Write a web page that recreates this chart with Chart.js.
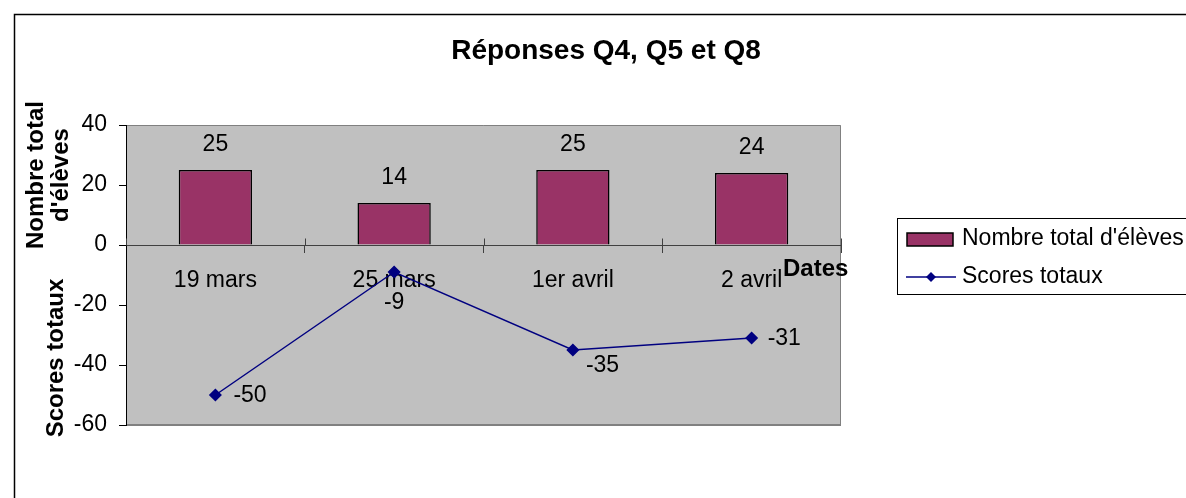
<!DOCTYPE html>
<html>
<head>
<meta charset="utf-8">
<script src="https://cdn.jsdelivr.net/npm/chart.js@4/dist/chart.umd.min.js"></script>
<style>
  html, body { margin: 0; padding: 0; background: #fff; }
  canvas { display: block; }
</style>
</head>
<body>
<canvas id="chart" width="1186" height="498"></canvas>
<script>
// Chart data
const chartTitle = 'Réponses Q4, Q5 et Q8';
const dates = ['19 mars', '25 mars', '1er avril', '2 avril'];
const studentCounts = [25, 14, 25, 24];
const totalScores = [-50, -9, -35, -31];
const yTicks = [40, 20, 0, -20, -40, -60];
const barLabel = "Nombre total d'élèves";
const lineLabel = 'Scores totaux';
const xTitle = 'Dates';
const yTitleTop = ['Nombre total', "d'élèves"];
const yTitleBottom = 'Scores totaux';

// Where each score label sits relative to its point: dx, dy, align
const scoreLabelPlacement = [
    [18, 0, 'left'],
    [0, 30, 'center'],
    [13, 15, 'left'],
    [16, 0, 'left']
];

const FONT = '"Liberation Sans", Arial, sans-serif';
const BAR_COLOR = '#993366';
const LINE_COLOR = '#000080';

// Background, outer frame and grey plot area
const backgroundPlugin = {
    id: 'background',
    beforeDraw(chart) {
        const ctx = chart.ctx;
        const a = chart.chartArea;
        ctx.save();
        ctx.fillStyle = '#fff';
        ctx.fillRect(0, 0, chart.width, chart.height);

        // outer chart frame (runs off the right and bottom edges)
        ctx.strokeStyle = '#000';
        ctx.lineWidth = 1.5;
        ctx.beginPath();
        ctx.moveTo(14.5, chart.height + 5);
        ctx.lineTo(14.5, 14.5);
        ctx.lineTo(chart.width + 5, 14.5);
        ctx.stroke();

        // plot area
        ctx.fillStyle = '#c0c0c0';
        ctx.fillRect(a.left, a.top, a.right - a.left, a.bottom - a.top);
        ctx.strokeStyle = '#808080';
        ctx.lineWidth = 1;
        ctx.beginPath();
        ctx.moveTo(a.left, a.top + 0.5);
        ctx.lineTo(a.right - 0.5, a.top + 0.5);
        ctx.lineTo(a.right - 0.5, a.bottom);
        ctx.stroke();
        ctx.lineWidth = 2;
        ctx.beginPath();
        ctx.moveTo(a.left, a.bottom);
        ctx.lineTo(a.right, a.bottom);
        ctx.stroke();
        ctx.restore();
    }
};

// Titles, data labels, legend, upper halves of the x tick marks
const decorPlugin = {
    id: 'decor',
    afterDraw(chart) {
        const ctx = chart.ctx;
        const x = chart.scales.x;
        const y = chart.scales.y;
        ctx.save();
        ctx.fillStyle = '#000';

        // x tick marks cross the axis
        const zeroY = Math.round(y.getPixelForValue(0)) + 0.5;
        const half = (x.getPixelForValue(1) - x.getPixelForValue(0)) / 2;
        ctx.strokeStyle = '#404040';
        ctx.lineWidth = 1;
        ctx.beginPath();
        for (let i = 0; i <= dates.length; i++) {
            const px = Math.round(x.getPixelForValue(i) - half) + 0.5;
            ctx.moveTo(px, zeroY);
            ctx.lineTo(px, zeroY - 7);
        }
        ctx.stroke();

        // chart title
        ctx.font = 'bold 28px ' + FONT;
        ctx.textAlign = 'center';
        ctx.textBaseline = 'middle';
        ctx.fillText(chartTitle, 606, 51);

        // x axis title
        ctx.font = 'bold 24px ' + FONT;
        ctx.textAlign = 'left';
        ctx.fillText(xTitle, 783, 269);

        // y axis titles (rotated)
        ctx.save();
        ctx.translate(36, 175);
        ctx.rotate(-Math.PI / 2);
        ctx.textAlign = 'center';
        ctx.fillText(yTitleTop[0], 0, 0);
        ctx.fillText(yTitleTop[1], 0, 25);
        ctx.restore();
        ctx.save();
        ctx.translate(56, 358);
        ctx.rotate(-Math.PI / 2);
        ctx.textAlign = 'center';
        ctx.fillText(yTitleBottom, 0, 0);
        ctx.restore();

        // data labels
        ctx.font = '23px ' + FONT;
        const bars = chart.getDatasetMeta(0).data;
        ctx.textAlign = 'center';
        bars.forEach((bar, i) => {
            ctx.fillText(String(studentCounts[i]), bar.x, bar.y - 25);
        });
        const points = chart.getDatasetMeta(1).data;
        points.forEach((pt, i) => {
            const [dx, dy, align] = scoreLabelPlacement[i];
            ctx.textAlign = align;
            ctx.fillText(String(totalScores[i]), pt.x + dx, pt.y + dy + 1);
        });

        // legend
        ctx.strokeStyle = '#000';
        ctx.lineWidth = 1;
        ctx.strokeRect(897.5, 218.5, 310, 76);
        ctx.fillStyle = BAR_COLOR;
        ctx.fillRect(907, 233, 46, 13);
        ctx.lineWidth = 1.5;
        ctx.strokeRect(907, 233, 46, 13);
        ctx.strokeStyle = LINE_COLOR;
        ctx.beginPath();
        ctx.moveTo(906, 277);
        ctx.lineTo(956, 277);
        ctx.stroke();
        ctx.fillStyle = LINE_COLOR;
        ctx.beginPath();
        ctx.moveTo(931, 272);
        ctx.lineTo(936, 277);
        ctx.lineTo(931, 282);
        ctx.lineTo(926, 277);
        ctx.closePath();
        ctx.fill();
        ctx.fillStyle = '#000';
        ctx.textAlign = 'left';
        ctx.fillText(barLabel, 962, 239);
        ctx.fillText(lineLabel, 962, 277);

        ctx.restore();
    }
};

new Chart(document.getElementById('chart'), {
    type: 'bar',
    data: {
        labels: dates,
        datasets: [
            {
                type: 'bar',
                label: barLabel,
                data: studentCounts,
                backgroundColor: BAR_COLOR,
                borderColor: '#000',
                borderWidth: 1.5,
                barPercentage: 1,
                categoryPercentage: 0.41,
                order: 2
            },
            {
                type: 'line',
                label: lineLabel,
                data: totalScores,
                borderColor: LINE_COLOR,
                borderWidth: 1.5,
                backgroundColor: LINE_COLOR,
                pointStyle: 'rectRot',
                pointRadius: 5.5,
                pointBackgroundColor: LINE_COLOR,
                pointBorderColor: LINE_COLOR,
                tension: 0,
                order: 1
            }
        ]
    },
    options: {
        responsive: false,
        animation: false,
        devicePixelRatio: 1,
        layout: {
            padding: { top: 125, right: 345, bottom: 73, left: 0 }
        },
        plugins: {
            legend: { display: false },
            tooltip: { enabled: false },
            title: { display: false }
        },
        scales: {
            x: {
                position: { y: 0 },
                offset: true,
                grid: {
                    offset: true,
                    drawOnChartArea: false,
                    tickLength: 7,
                    tickColor: '#404040'
                },
                border: { color: '#404040', width: 1 },
                ticks: {
                    color: '#000',
                    font: { family: FONT, size: 23 },
                    padding: 15,
                    maxRotation: 0,
                    autoSkip: false
                }
            },
            y: {
                min: Math.min(...yTicks),
                max: Math.max(...yTicks),
                afterFit(scale) { scale.width = 126; },
                grid: {
                    drawOnChartArea: false,
                    tickLength: 7,
                    tickColor: '#000'
                },
                border: { color: '#000', width: 1 },
                ticks: {
                    stepSize: yTicks[0] - yTicks[1],
                    color: '#000',
                    font: { family: FONT, size: 23 },
                    padding: 12
                }
            }
        }
    },
    plugins: [backgroundPlugin, decorPlugin]
});
</script>
</body>
</html>
